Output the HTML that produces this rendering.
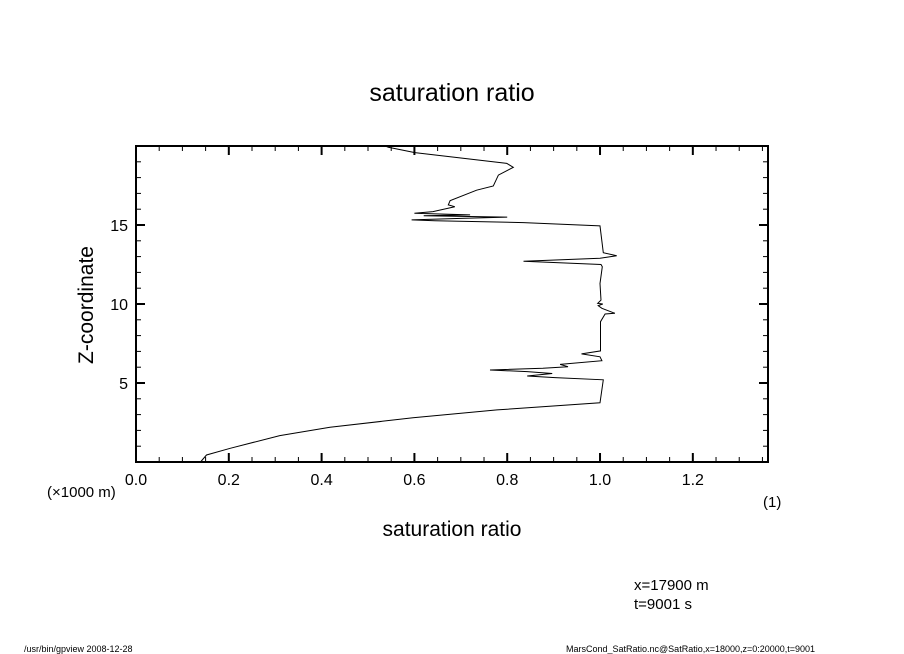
<!DOCTYPE html>
<html><head><meta charset="utf-8"><style>
body{margin:0;background:#fff;}
svg{display:block;font-family:"Liberation Sans",sans-serif;}
</style></head><body>
<svg id="c" width="904" height="654" viewBox="0 0 904 654">
<rect width="904" height="654" fill="#fff"/>
<text x="452" y="101" font-size="25" text-anchor="middle">saturation ratio</text>
<text x="452" y="536" font-size="21" text-anchor="middle">saturation ratio</text>
<text transform="translate(93,305) rotate(-90)" font-size="21" text-anchor="middle">Z-coordinate</text>
<text x="47" y="497" font-size="15">(×1000 m)</text>
<text x="763" y="507" font-size="15">(1)</text>
<text x="634" y="590" font-size="15">x=17900 m</text>
<text x="634" y="609" font-size="15">t=9001 s</text>
<text x="24" y="652" font-size="9">/usr/bin/gpview   2008-12-28</text>
<text x="566" y="652" font-size="9">MarsCond_SatRatio.nc@SatRatio,x=18000,z=0:20000,t=9001</text>
<g id="axes"></g>
<g id="series"></g>
</svg>
<script>
const satValues=[0.139,0.152,0.203,0.310,0.418,0.597,0.778,1.0,1.007,0.903,0.843,0.897,0.843,0.763,0.877,0.931,0.914,1.004,1.0,0.960,1.001,1.001,1.011,1.032,1.004,0.996,1.006,0.995,1.002,1.0,1.005,1.002,0.835,1.0,1.036,1.007,1.0,0.835,0.644,0.594,0.70,0.80,0.62,0.72,0.60,0.64,0.687,0.673,0.677,0.734,0.770,0.781,0.813,0.799,0.601,0.544,0.537];
const zValues=[0,0.44,0.87,1.67,2.2,2.8,3.3,3.75,5.2,5.34,5.44,5.6,5.72,5.82,5.93,6.03,6.18,6.41,6.66,6.84,7.03,8.88,9.37,9.41,9.73,9.9,10.0,10.04,10.25,11.3,12.36,12.5,12.7,12.9,13.06,13.25,14.94,15.15,15.27,15.32,15.42,15.5,15.58,15.64,15.75,15.85,16.16,16.27,16.54,17.2,17.47,18.16,18.65,18.9,19.58,19.92,20.0];
const xTickLabels=["0.0","0.2","0.4","0.6","0.8","1.0","1.2"];
const yTickLabels=["5","10","15"];
const X0=136,X1=768,Y0=462,Y1=146,XMAX=1.362,YMAX=20;
const sx=v=>X0+v/XMAX*(X1-X0);
const sy=v=>Y0-v/YMAX*(Y0-Y1);
const NS="http://www.w3.org/2000/svg";
const axes=document.getElementById('axes');
function ln(x1,y1,x2,y2,w){const l=document.createElementNS(NS,'line');l.setAttribute('x1',x1);l.setAttribute('y1',y1);l.setAttribute('x2',x2);l.setAttribute('y2',y2);l.setAttribute('stroke','#000');l.setAttribute('stroke-width',w);axes.appendChild(l);return l;}
const frame=document.createElementNS(NS,'rect');
frame.setAttribute('x',X0);frame.setAttribute('y',Y1);frame.setAttribute('width',X1-X0);frame.setAttribute('height',Y0-Y1);
frame.setAttribute('fill','none');frame.setAttribute('stroke','#000');frame.setAttribute('stroke-width','2');


axes.appendChild(frame);
for(let i=1;i*0.05<XMAX;i++){const v=i*0.05,x=sx(v),maj=i%4===0,L=maj?9:5;
 const t1=ln(x,Y0,x,Y0-L,maj?2:1);
 
 
 const t2=ln(x,Y1,x,Y1+L,maj?2:1);
 
 }
xTickLabels.forEach((s,i)=>{const t=document.createElementNS(NS,'text');t.setAttribute('x',sx(parseFloat(s)));t.setAttribute('y',Y0+23);t.setAttribute('font-size','16');t.setAttribute('text-anchor','middle');t.textContent=s;
 
 
 axes.appendChild(t);});
for(let i=1;i<YMAX;i++){const y=sy(i),maj=i%5===0,L=maj?9:5;
 const t1=ln(X0,y,X0+L,y,maj?2:1);
 
 
 const t2=ln(X1,y,X1-L,y,maj?2:1);
 
 }
yTickLabels.forEach(s=>{const t=document.createElementNS(NS,'text');t.setAttribute('x',X0-8);t.setAttribute('y',sy(parseFloat(s))+6);t.setAttribute('font-size','16');t.setAttribute('text-anchor','end');t.textContent=s;
 
 
 axes.appendChild(t);});
const p=document.createElementNS(NS,'polyline');
p.setAttribute('points',satValues.map((v,i)=>sx(v).toFixed(1)+','+sy(zValues[i]).toFixed(1)).join(' '));
p.setAttribute('fill','none');p.setAttribute('stroke','#000');p.setAttribute('stroke-width','1');


document.getElementById('series').appendChild(p);
</script>
</body></html>
